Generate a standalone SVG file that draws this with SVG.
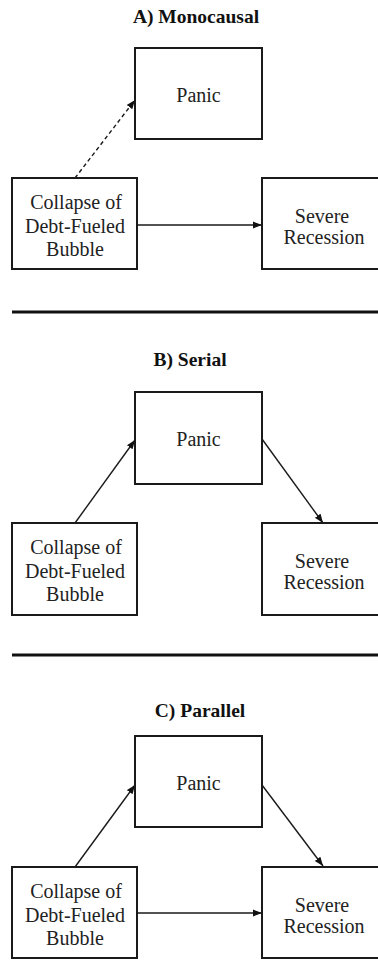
<svg xmlns="http://www.w3.org/2000/svg" width="378" height="961" viewBox="0 0 378 961">
<style>
.bg{fill:#ffffff}
.box{fill:#ffffff;stroke:#1a1a1a;stroke-width:2}
.t{font-family:"Liberation Serif","Times New Roman",serif;font-size:20px;fill:#222;text-anchor:middle}
.title{font-family:"Liberation Serif","Times New Roman",serif;font-size:19.5px;font-weight:bold;fill:#111;text-anchor:middle}
.edge{stroke:#1a1a1a;stroke-width:1.4;fill:none;marker-end:url(#ah)}
.dash{stroke-dasharray:4 3}
.rule{stroke:#111;stroke-width:3}
</style>
<defs>
<marker id="ah" markerUnits="userSpaceOnUse" markerWidth="10" markerHeight="9" refX="9" refY="4" orient="auto">
<path d="M0,0.5 L9,4 L0,7.5 z" fill="#111"/>
</marker>
</defs>
<rect class="bg" x="0" y="0" width="378" height="961"/>

<text class="title" x="196" y="23">A) Monocausal</text>
<text class="title" x="190" y="366">B) Serial</text>
<text class="title" x="200" y="717">C) Parallel</text>

<line class="rule" x1="12" y1="312" x2="378" y2="312"/>
<line class="rule" x1="12" y1="655" x2="378" y2="655"/>

<g id="connectors">
<line class="edge dash" x1="75" y1="178" x2="135" y2="100"/>
<line class="edge" x1="137" y1="225" x2="262" y2="225"/>
<line class="edge" x1="75" y1="523" x2="135" y2="440"/>
<line class="edge" x1="262" y1="439" x2="323" y2="523"/>
<line class="edge" x1="75" y1="867" x2="135" y2="785"/>
<line class="edge" x1="262" y1="785" x2="323" y2="866"/>
<line class="edge" x1="137" y1="913" x2="262" y2="913"/>
</g>

<g id="a-panic">
<rect class="box" x="135" y="48" width="127" height="91"/>
<text class="t" x="198.5" y="102">Panic</text>
</g>
<g id="a-collapse">
<rect class="box" x="12" y="178" width="125" height="91"/>
<text class="t" x="76" y="209">Collapse of</text>
<text class="t" x="75" y="233">Debt-Fueled</text>
<text class="t" x="75" y="256">Bubble</text>
</g>
<g id="a-severe">
<rect class="box" x="262" y="178" width="126" height="91"/>
<text class="t" x="322" y="223">Severe</text>
<text class="t" x="324" y="244">Recession</text>
</g>

<g id="b-panic">
<rect class="box" x="135" y="392" width="127" height="92"/>
<text class="t" x="198.5" y="446">Panic</text>
</g>
<g id="b-collapse">
<rect class="box" x="12" y="523" width="125" height="92"/>
<text class="t" x="76" y="554">Collapse of</text>
<text class="t" x="75" y="578">Debt-Fueled</text>
<text class="t" x="75" y="601">Bubble</text>
</g>
<g id="b-severe">
<rect class="box" x="262" y="523" width="126" height="92"/>
<text class="t" x="322" y="568">Severe</text>
<text class="t" x="324" y="589">Recession</text>
</g>

<g id="c-panic">
<rect class="box" x="135" y="736" width="127" height="91"/>
<text class="t" x="198.5" y="790">Panic</text>
</g>
<g id="c-collapse">
<rect class="box" x="12" y="867" width="125" height="91"/>
<text class="t" x="76" y="898">Collapse of</text>
<text class="t" x="75" y="922">Debt-Fueled</text>
<text class="t" x="75" y="945">Bubble</text>
</g>
<g id="c-severe">
<rect class="box" x="262" y="867" width="126" height="91"/>
<text class="t" x="322" y="912">Severe</text>
<text class="t" x="324" y="933">Recession</text>
</g>
</svg>
